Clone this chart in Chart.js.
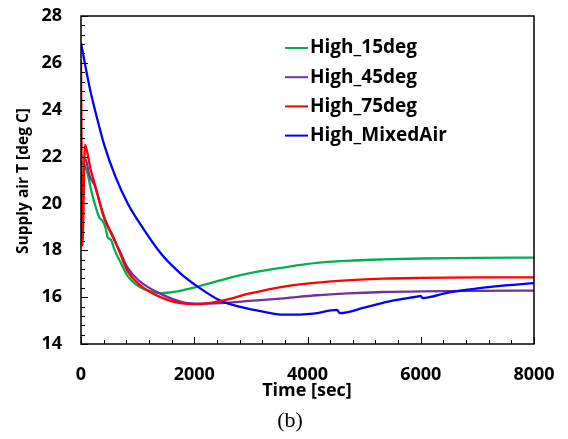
<!DOCTYPE html>
<html>
<head>
<meta charset="utf-8">
<script src="https://cdn.jsdelivr.net/npm/chart.js@4/dist/chart.umd.min.js"></script>
<style>
    body { margin: 0; background: #fff; }
    canvas { display: block; }
</style>
</head>
<body>
<canvas id="chart" width="568" height="439"></canvas>
<script>
// 時間軸與各序列數值
const seriesNames = ['High_15deg', 'High_45deg', 'High_75deg', 'High_MixedAir'];
const seriesColors = ['#00B050', '#7030A0', '#FF0000', '#0000FF'];

const time15 = [0, 70, 118, 176, 235, 323, 383, 441, 471, 529, 588, 715, 825, 970, 1120, 1415, 1640, 2060, 2560, 2986, 3600, 4164, 4700, 5341, 6000, 7000, 8000];
const temp15 = [21.8, 21.6, 21.25, 20.6, 20.05, 19.4, 19.25, 18.9, 18.55, 18.45, 18.05, 17.4, 16.9, 16.55, 16.34, 16.17, 16.22, 16.45, 16.78, 17.02, 17.27, 17.46, 17.55, 17.61, 17.65, 17.68, 17.69];

const time45 = [0, 88, 148, 235, 412, 707, 825, 1025, 1415, 1825, 2060, 2470, 2986, 3580, 4164, 4700, 5341, 6000, 7000, 8000];
const temp45 = [22.0, 21.85, 21.2, 20.8, 19.4, 17.85, 17.25, 16.7, 16.13, 15.77, 15.72, 15.75, 15.84, 15.95, 16.08, 16.16, 16.22, 16.25, 16.27, 16.28];

const time75 = [0, 25, 70, 118, 165, 235, 412, 565, 707, 825, 1025, 1415, 1825, 2060, 2470, 2986, 3580, 4164, 4700, 5341, 6000, 7000, 8000];
const temp75 = [26.1, 18.2, 22.5, 22.1, 21.5, 20.9, 19.35, 18.6, 17.76, 17.1, 16.55, 15.99, 15.72, 15.7, 15.84, 16.16, 16.45, 16.62, 16.72, 16.79, 16.82, 16.84, 16.84];

const timeMixed = [0, 90, 175, 235, 410, 615, 825, 1025, 1415, 1740, 2060, 2470, 2870, 3170, 3570, 4100, 4520, 4570, 5000, 5500, 5930, 6000, 6030, 6500, 7000, 7500, 8000];
const tempMixed = [26.85, 25.7, 24.7, 24.1, 22.5, 21.1, 20.0, 19.2, 17.85, 17.05, 16.45, 15.84, 15.55, 15.4, 15.25, 15.3, 15.46, 15.32, 15.55, 15.85, 16.02, 16.05, 15.96, 16.2, 16.37, 16.5, 16.6];

const xTicks = [0, 2000, 4000, 6000, 8000];
const yTicks = [14, 16, 18, 20, 22, 24, 26, 28];

const FONT = '"Open Sans", "Liberation Sans", sans-serif';

function toPoints(times, temps) {
    return times.map((t, i) => ({ x: t, y: temps[i] }));
}

const allTimes = [time15, time45, time75, timeMixed];
const allTemps = [temp15, temp45, temp75, tempMixed];
const drawOrder = [3, 2, 0, 1]; // 紅線在最上層

// 外框、內向刻度、刻度文字、標題與圖例
const framePlugin = {
    id: 'frame',
    afterDraw(chart) {
        const ctx = chart.ctx;
        const area = chart.chartArea;
        const xs = chart.scales.x;
        const ys = chart.scales.y;
        ctx.save();
        ctx.strokeStyle = '#000';

        // 刻度
        ctx.lineWidth = 1;
        ctx.beginPath();
        for (let v = xs.min; v <= xs.max + 1e-6; v += 400) {
            const px = Math.round(xs.getPixelForValue(v)) + 0.5;
            const len = v % 2000 === 0 ? 7 : 4;
            ctx.moveTo(px, area.bottom);
            ctx.lineTo(px, area.bottom - len);
        }
        for (let i = 0; i <= 35; i++) {
            const v = ys.min + i * 0.4;
            const py = Math.round(ys.getPixelForValue(v)) + 0.5;
            const len = i % 5 === 0 ? 7 : 4;
            ctx.moveTo(area.left, py);
            ctx.lineTo(area.left + len, py);
        }
        ctx.stroke();

        // 外框
        ctx.lineWidth = 1.5;
        ctx.strokeRect(area.left, area.top, area.right - area.left, area.bottom - area.top);

        // 刻度文字
        ctx.fillStyle = '#000';
        ctx.font = 'bold 18px ' + FONT;
        ctx.textBaseline = 'middle';
        ctx.textAlign = 'center';
        xTicks.forEach(v => ctx.fillText(String(v), xs.getPixelForValue(v), 375));
        ctx.textAlign = 'right';
        yTicks.forEach(v => ctx.fillText(String(v), 62, ys.getPixelForValue(v)));

        // 軸標題
        ctx.textAlign = 'center';
        ctx.font = 'bold 18px ' + FONT;
        ctx.fillText('Time [sec]', 307, 391);
        ctx.font = '22px "Liberation Serif", "Times New Roman", serif';
        ctx.fillText('(b)', 290, 421);

        ctx.save();
        ctx.translate(24, 181);
        ctx.rotate(-Math.PI / 2);
        ctx.font = 'bold 15.5px ' + FONT;
        ctx.fillText('Supply air T [deg C]', 0, 0);
        ctx.restore();

        // 圖例
        ctx.font = 'bold 19px ' + FONT;
        ctx.textAlign = 'left';
        chart.data.datasets.forEach((ds, i) => {
            const y = 48 + i * 29.2;
            ctx.strokeStyle = ds.borderColor;
            ctx.lineWidth = 2;
            ctx.beginPath();
            ctx.moveTo(285, y);
            ctx.lineTo(308, y);
            ctx.stroke();
            ctx.fillText(ds.label, 310, y);
        });
        ctx.restore();
    }
};

new Chart(document.getElementById('chart'), {
    type: 'line',
    data: {
        datasets: seriesNames.map((name, i) => ({
            label: name,
            data: toPoints(allTimes[i], allTemps[i]),
            borderColor: seriesColors[i],
            backgroundColor: seriesColors[i],
            borderWidth: 2.3,
            pointRadius: 0,
            fill: false,
            cubicInterpolationMode: 'monotone',
            order: drawOrder[i]
        }))
    },
    options: {
        responsive: false,
        animation: false,
        layout: { padding: { left: 0, right: 34, top: 16, bottom: 0 } },
        plugins: {
            legend: { display: false },
            tooltip: { enabled: false }
        },
        scales: {
            x: {
                type: 'linear',
                min: 0,
                max: 8000,
                afterBuildTicks: (scale) => { scale.ticks = xTicks.map(v => ({ value: v })); },
                ticks: { display: false },
                grid: { display: false },
                border: { display: false },
                afterFit: (scale) => { scale.height = 95; }
            },
            y: {
                type: 'linear',
                min: 14,
                max: 28,
                afterBuildTicks: (scale) => { scale.ticks = yTicks.map(v => ({ value: v })); },
                ticks: { display: false },
                grid: { display: false },
                border: { display: false },
                afterFit: (scale) => { scale.width = 81; }
            }
        }
    },
    plugins: [framePlugin]
});
</script>
</body>
</html>
